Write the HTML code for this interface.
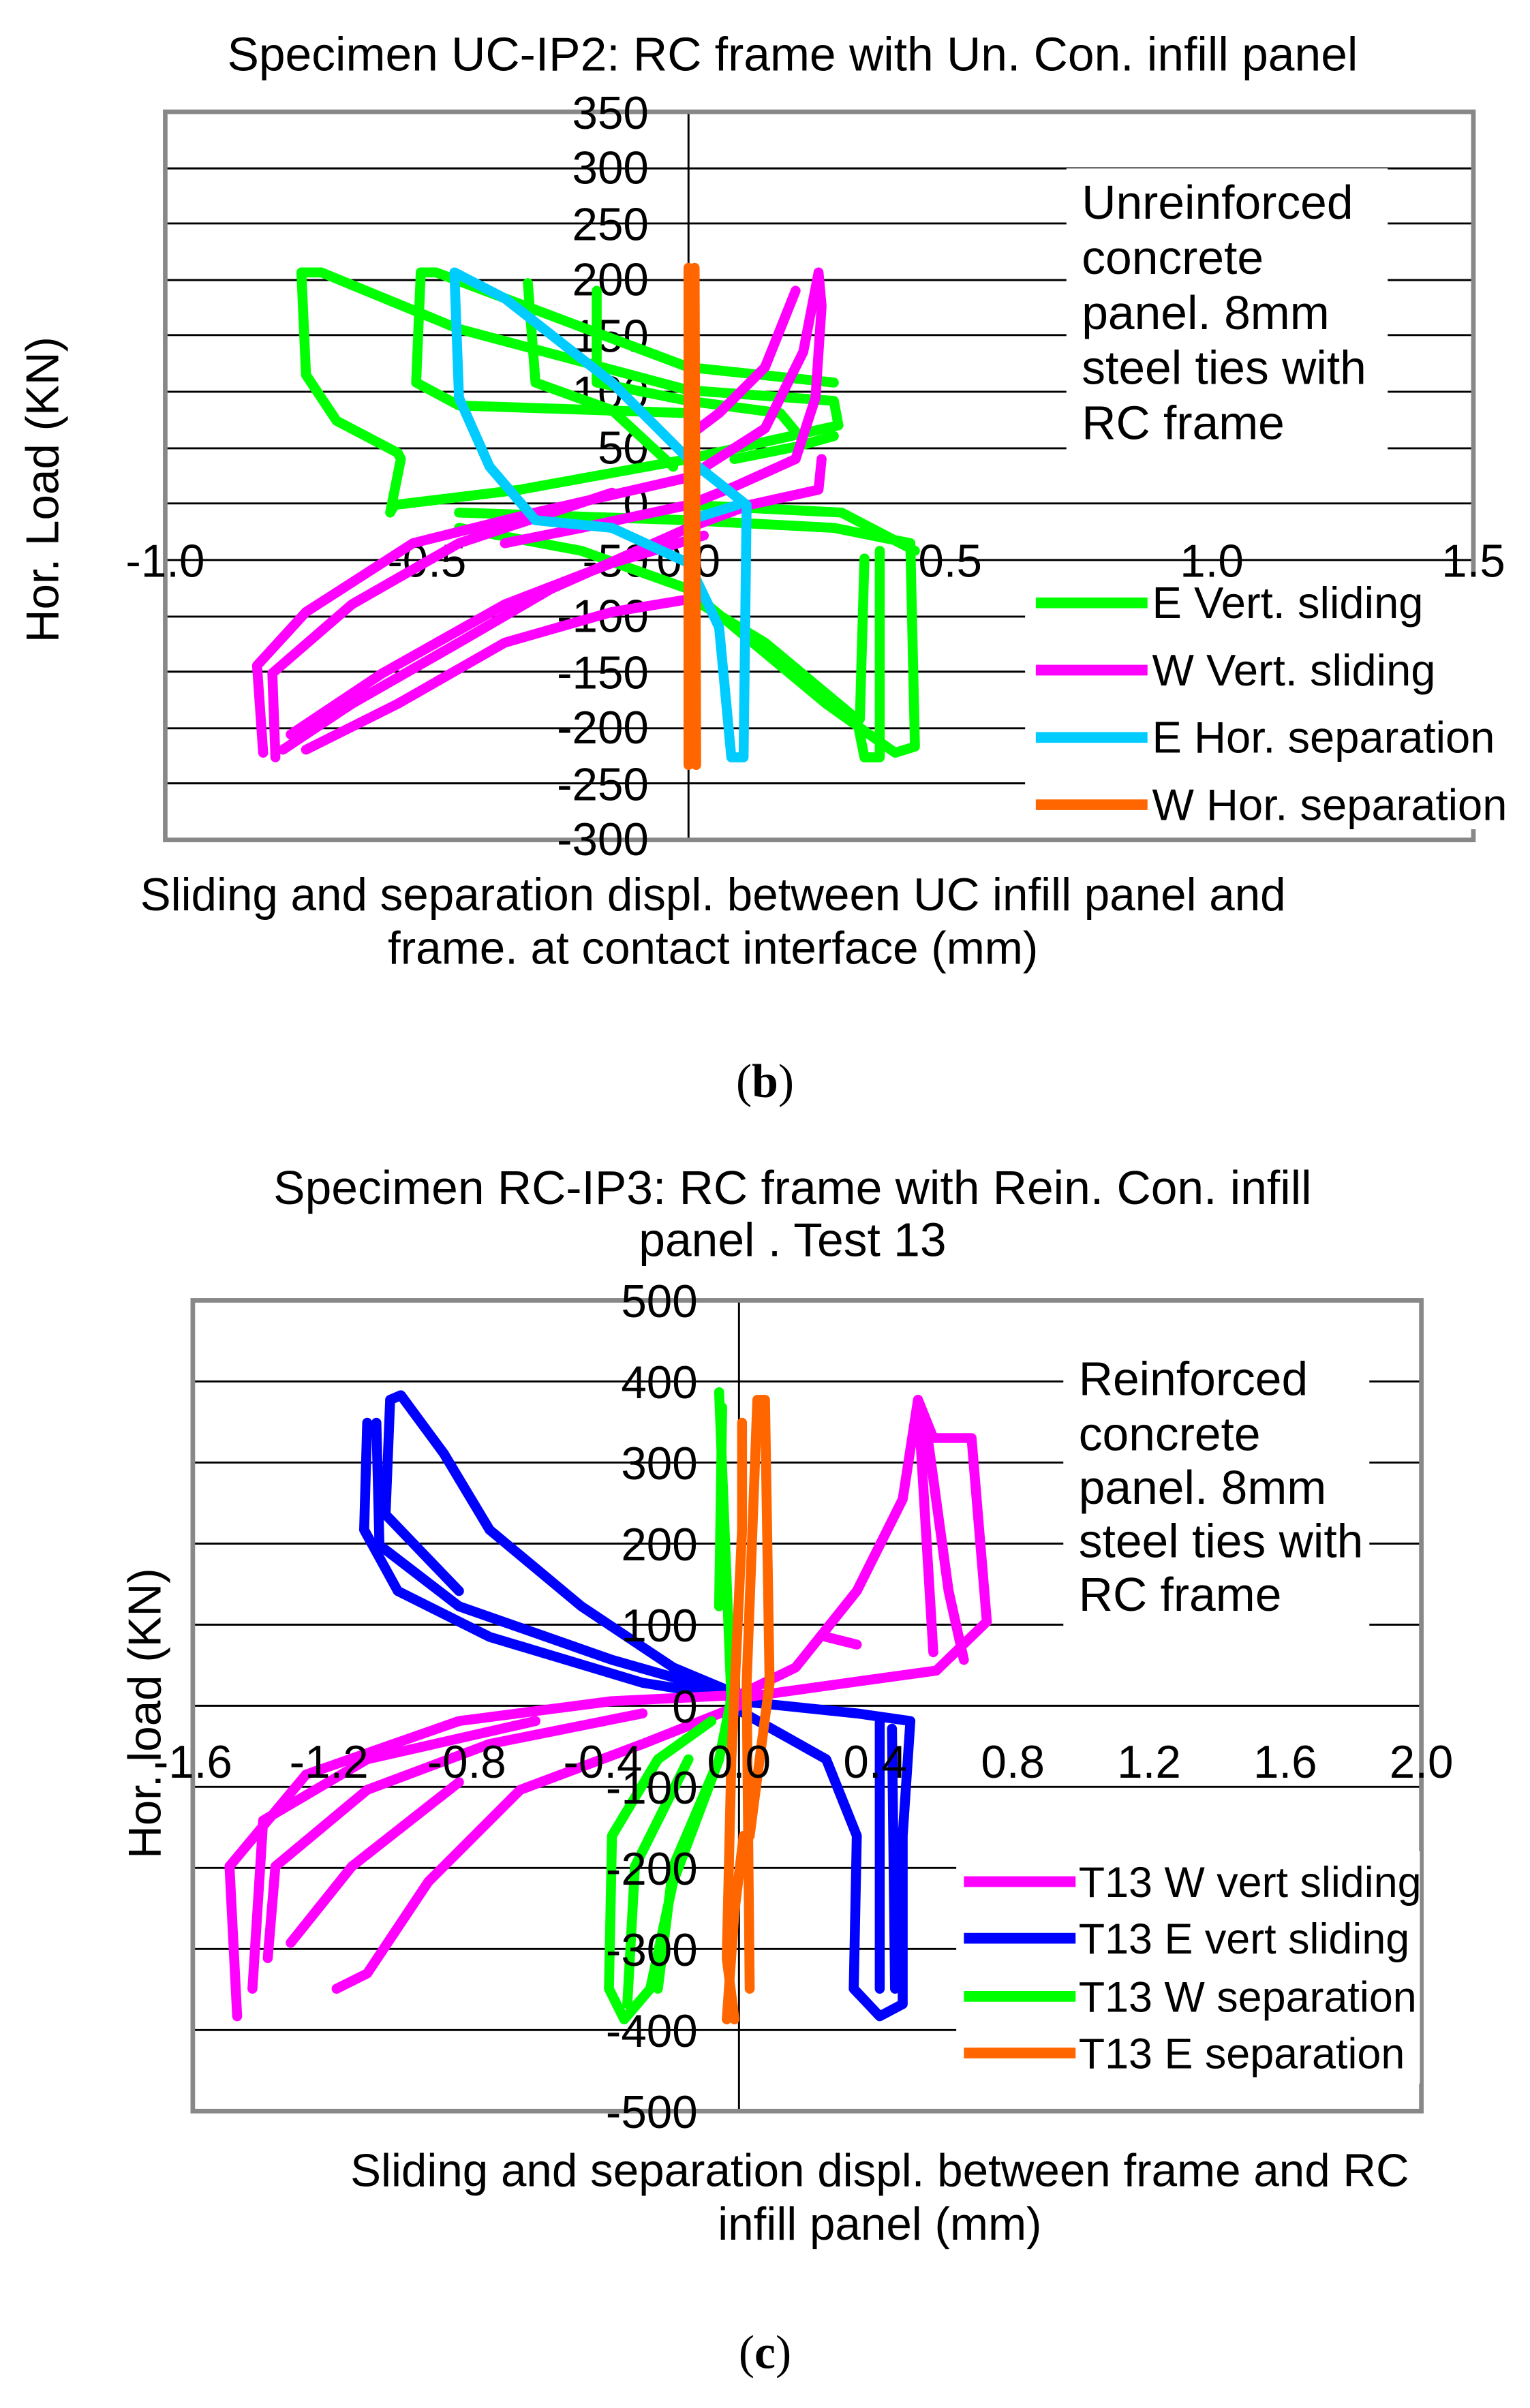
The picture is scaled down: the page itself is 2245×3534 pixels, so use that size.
<!DOCTYPE html>
<html><head><meta charset="utf-8"><style>html,body{margin:0;padding:0;background:#fff}svg{display:block}</style></head><body>
<svg width="2245" height="3534" viewBox="0 0 1000 1574" xmlns="http://www.w3.org/2000/svg" font-family="Liberation Sans, sans-serif">
<rect width="1000" height="1574" fill="#fff"/>
<!-- Chart 1 -->
<text x="518" y="46" font-size="31" text-anchor="middle">Specimen UC-IP2: RC frame with Un. Con. infill panel</text>
<g stroke="#000" stroke-width="1.3">
<line x1="108" y1="110" x2="963" y2="110"/><line x1="108" y1="146" x2="963" y2="146"/><line x1="108" y1="183" x2="963" y2="183"/><line x1="108" y1="219" x2="963" y2="219"/><line x1="108" y1="256" x2="963" y2="256"/><line x1="108" y1="293" x2="963" y2="293"/><line x1="108" y1="329" x2="963" y2="329"/><line x1="108" y1="366" x2="963" y2="366"/><line x1="108" y1="403" x2="963" y2="403"/><line x1="108" y1="439" x2="963" y2="439"/><line x1="108" y1="476" x2="963" y2="476"/><line x1="108" y1="512" x2="963" y2="512"/>
<line x1="450" y1="73" x2="450" y2="549"/>
</g>
<rect x="108" y="73" width="855" height="476" fill="none" stroke="#888" stroke-width="3"/>
<rect x="697" y="110" width="210" height="186" fill="#fff"/>
<rect x="670" y="376" width="318" height="166" fill="#fff"/>
<g font-size="30" text-anchor="end">
<text x="424" y="84">350</text><text x="424" y="120">300</text><text x="424" y="157">250</text><text x="424" y="193">200</text><text x="424" y="230">150</text><text x="424" y="267">100</text><text x="424" y="303">50</text><text x="424" y="340">0</text><text x="424" y="377">-50</text><text x="424" y="413">-100</text><text x="424" y="450">-150</text><text x="424" y="486">-200</text><text x="424" y="523">-250</text><text x="424" y="559">-300</text>
</g>
<g font-size="30" text-anchor="middle">
<text x="108" y="377">-1.0</text><text x="279" y="377">-0.5</text><text x="450" y="377">0.0</text><text x="621" y="377">0.5</text><text x="792" y="377">1.0</text><text x="963" y="377">1.5</text>
</g>
<g fill="none" stroke-width="6.5" stroke-linejoin="round" stroke-linecap="round">
<path stroke="#00ff00" d="M255,335 L262,300 L260,296 L220,275 L200,245 L197,178 L210,178 L300,215 L450,255 L545,262 L548,278 L450,300 L340,320 L258,330 Z M275,178 L285,178 L450,240 L545,250 M275,178 L272,250 L300,265 L450,270 M345,185 L350,250 L400,268 L440,305 M390,190 L390,250 L450,262 L510,270 L520,282 M480,300 L520,292 L545,285 M300,335 L450,340 L545,345 L595,355 L598,488 L585,492 L540,460 L450,385 L380,360 L300,345 M575,360 L575,495 L565,495 L560,470 L500,420 L450,390 M565,365 L562,470 M450,330 L550,335 L598,360"/>
<path stroke="#ff00ff" d="M172,492 L168,435 L200,400 L270,355 L350,335 L450,312 L500,280 L525,230 L535,178 L537,200 L533,260 L520,300 L480,318 L450,330 L380,345 L330,355 M180,495 L178,440 L230,395 L300,355 L400,322 M185,490 L230,460 L300,420 L360,385 L450,345 L490,330 L535,320 L537,300 M190,480 L250,440 L330,395 L400,368 L460,350 M200,490 L260,460 L330,420 L400,400 L460,390 M520,190 L500,240 L470,270 L450,285"/>
<path stroke="#00ccff" d="M297,178 L300,260 L320,305 L350,340 L400,345 L450,368 L470,410 L478,495 L486,495 L488,330 L450,300 L400,250 L330,195 L297,178 Z M450,340 L482,330"/>
<path stroke="#ff6600" d="M450,175 L450,500 M454,175 L455,500"/>
</g>
<g font-size="31"><text x="707" y="143">Unreinforced</text><text x="707" y="179">concrete</text><text x="707" y="215">panel. 8mm</text><text x="707" y="251">steel ties with</text><text x="707" y="287">RC frame</text></g>
<g stroke-width="7"><line x1="677" y1="394" x2="750" y2="394" stroke="#00ff00"/><line x1="677" y1="438" x2="750" y2="438" stroke="#ff00ff"/><line x1="677" y1="482" x2="750" y2="482" stroke="#00ccff"/><line x1="677" y1="526" x2="750" y2="526" stroke="#ff6600"/></g>
<g font-size="29"><text x="753" y="404">E Vert. sliding</text><text x="753" y="448">W Vert. sliding</text><text x="753" y="492">E Hor. separation</text><text x="753" y="536">W Hor. separation</text></g>
<text x="38" y="320" font-size="30" text-anchor="middle" transform="rotate(-90 38 320)">Hor. Load (KN)</text>
<text x="466" y="595" font-size="30" text-anchor="middle">Sliding and separation displ. between UC infill panel and</text>
<text x="466" y="630" font-size="30" text-anchor="middle">frame. at contact interface (mm)</text>
<text x="500" y="717" font-size="31" text-anchor="middle" font-family="Liberation Serif, serif">(<tspan font-weight="bold">b</tspan>)</text>

<!-- Chart 2 -->
<text x="518" y="787" font-size="31" text-anchor="middle">Specimen RC-IP3: RC frame with Rein. Con. infill</text>
<text x="518" y="821" font-size="31" text-anchor="middle">panel . Test 13</text>
<g stroke="#000" stroke-width="1.3">
<line x1="126" y1="903" x2="929" y2="903"/><line x1="126" y1="956" x2="929" y2="956"/><line x1="126" y1="1009" x2="929" y2="1009"/><line x1="126" y1="1062" x2="929" y2="1062"/><line x1="126" y1="1115" x2="929" y2="1115"/><line x1="126" y1="1168" x2="929" y2="1168"/><line x1="126" y1="1221" x2="929" y2="1221"/><line x1="126" y1="1274" x2="929" y2="1274"/><line x1="126" y1="1327" x2="929" y2="1327"/>
<line x1="483" y1="850" x2="483" y2="1380"/>
</g>
<rect x="126" y="850" width="803" height="530" fill="none" stroke="#888" stroke-width="3"/>
<rect x="695" y="885" width="200" height="178" fill="#fff"/>
<rect x="625" y="1210" width="303" height="152" fill="#fff"/>
<g fill="none" stroke-width="6.5" stroke-linejoin="round" stroke-linecap="round">
<path stroke="#0000ff" d="M240,930 L238,1000 L260,1040 L320,1070 L420,1100 L483,1110 M246,930 L248,1010 L300,1050 L400,1085 L470,1105 M255,915 L262,912 L290,950 L320,1000 L380,1050 L440,1090 L483,1108 M255,915 L252,990 L300,1040 M483,1112 L560,1120 L595,1125 L590,1200 L590,1310 L575,1318 L558,1300 L560,1200 L540,1150 L483,1118 M575,1125 L575,1300 M583,1130 L585,1300"/>
<path stroke="#ff00ff" d="M600,915 L610,940 L635,940 L645,1060 L612,1092 L540,1102 L483,1110 M600,915 L590,980 L560,1040 L520,1090 L483,1108 M605,930 L620,1040 L630,1085 M600,915 L610,1080 M560,1075 L540,1070 M155,1318 L150,1220 L200,1160 L300,1125 L400,1112 L483,1108 M165,1300 L172,1190 L240,1150 L350,1125 M175,1280 L180,1220 L240,1170 L320,1140 L420,1120 M220,1300 L240,1290 L280,1230 L340,1170 L420,1140 L483,1115 M190,1270 L230,1220 L300,1165"/>
<path stroke="#00ff00" d="M470,910 L478,1110 L470,1150 L440,1230 L425,1300 L408,1320 L398,1300 L400,1200 L430,1150 L465,1125 M472,920 L470,1050 M410,1310 L415,1220 L450,1150 M430,1300 L440,1220 L470,1150"/>
<path stroke="#ff6600" d="M480,1320 L475,1280 L478,1150 L485,1000 L485,930 M490,1300 L488,1100 L495,915 L500,915 L503,1100 L490,1200 M475,1320 L480,1250 L486,1200"/>
</g>
<g font-size="30" text-anchor="end">
<text x="456" y="861">500</text><text x="456" y="914">400</text><text x="456" y="967">300</text><text x="456" y="1020">200</text><text x="456" y="1073">100</text><text x="456" y="1126">0</text><text x="456" y="1179">-100</text><text x="456" y="1232">-200</text><text x="456" y="1285">-300</text><text x="456" y="1338">-400</text><text x="456" y="1391">-500</text>
</g>
<g font-size="30" text-anchor="middle">
<text x="126" y="1162">-1.6</text><text x="215" y="1162">-1.2</text><text x="305" y="1162">-0.8</text><text x="394" y="1162">-0.4</text><text x="483" y="1162">0.0</text><text x="572" y="1162">0.4</text><text x="662" y="1162">0.8</text><text x="751" y="1162">1.2</text><text x="840" y="1162">1.6</text><text x="929" y="1162">2.0</text>
</g>
<g font-size="31"><text x="705" y="912">Reinforced</text><text x="705" y="948">concrete</text><text x="705" y="983">panel. 8mm</text><text x="705" y="1018">steel ties with</text><text x="705" y="1053">RC frame</text></g>
<g stroke-width="7"><line x1="630" y1="1230" x2="703" y2="1230" stroke="#ff00ff"/><line x1="630" y1="1267" x2="703" y2="1267" stroke="#0000ff"/><line x1="630" y1="1305" x2="703" y2="1305" stroke="#00ff00"/><line x1="630" y1="1342" x2="703" y2="1342" stroke="#ff6600"/></g>
<g font-size="28"><text x="705" y="1240">T13 W vert sliding</text><text x="705" y="1277">T13 E vert sliding</text><text x="705" y="1315">T13 W separation</text><text x="705" y="1352">T13 E separation</text></g>
<text x="105" y="1120" font-size="30" text-anchor="middle" transform="rotate(-90 105 1120)">Hor. load (KN)</text>
<text x="575" y="1429" font-size="30" text-anchor="middle">Sliding and separation displ. between frame and RC</text>
<text x="575" y="1464" font-size="30" text-anchor="middle">infill panel (mm)</text>
<text x="500" y="1548" font-size="31" text-anchor="middle" font-family="Liberation Serif, serif">(<tspan font-weight="bold">c</tspan>)</text>
</svg>
</body></html>
